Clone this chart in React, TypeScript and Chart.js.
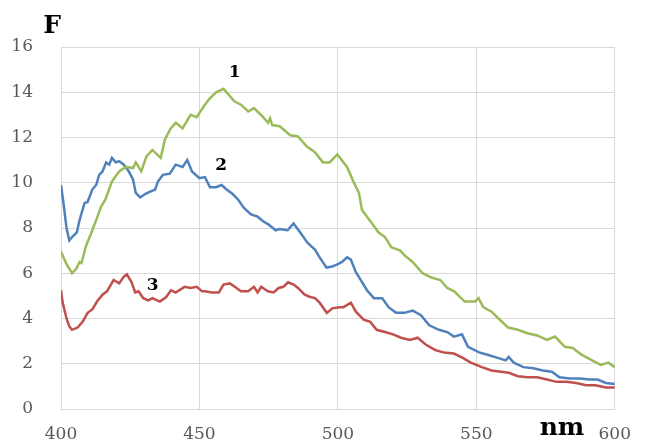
import React, { useEffect, useRef } from 'react';
import { Chart, registerables } from 'chart.js';
Chart.register(...registerables);

// Series 1 (green)
const wl1 = [400, 402, 404, 405.5, 406.7, 407.4, 409, 411, 412.7, 414.5, 416, 418.4, 421, 423.4, 426, 427, 429, 430.8, 433, 436, 437.5, 439.6, 441.5, 443.9, 446.8, 449, 451.7, 453.5, 456, 458.7, 460.5, 462.6, 465, 467.6, 469.7, 473, 474.8, 475.5, 476.3, 479, 482.8, 485.6, 488.8, 491.7, 494.6, 497, 499.8, 503.3, 505.8, 507.6, 508.7, 512, 514.7, 517, 519.3, 522.5, 524, 527, 530.6, 534, 537, 539.5, 542, 545.8, 549.6, 550.8, 552.5, 555.5, 558, 561.5, 565, 568.5, 572, 575.5, 578.4, 582, 584.8, 588, 591.8, 595, 597.7, 600];
const f1 = [6.95, 6.4, 6.0, 6.2, 6.5, 6.45, 7.2, 7.8, 8.35, 8.95, 9.25, 10.05, 10.5, 10.7, 10.65, 10.9, 10.5, 11.15, 11.45, 11.1, 11.9, 12.4, 12.65, 12.4, 13.0, 12.9, 13.4, 13.7, 14.0, 14.15, 13.9, 13.6, 13.45, 13.15, 13.3, 12.9, 12.65, 12.85, 12.55, 12.5, 12.1, 12.05, 11.6, 11.35, 10.9, 10.9, 11.25, 10.7, 10.0, 9.55, 8.8, 8.25, 7.8, 7.6, 7.15, 7.0, 6.8, 6.5, 6.0, 5.8, 5.7, 5.35, 5.2, 4.75, 4.75, 4.9, 4.5, 4.3, 4.0, 3.6, 3.5, 3.35, 3.25, 3.05, 3.2, 2.75, 2.7, 2.4, 2.15, 1.95, 2.05, 1.85];

// Series 2 (blue)
const wl2 = [400, 401, 402, 403, 404, 405.7, 406.7, 408.5, 409.6, 411.3, 412.7, 413.8, 415, 416.3, 417.4, 418.4, 419.8, 421, 422.7, 424.5, 426, 427, 428.6, 430.4, 432, 434, 435, 436.8, 439.3, 441.4, 443.9, 445.6, 447.3, 450, 452, 453.8, 456, 458, 459.8, 462, 464, 466, 468.6, 471, 473, 475, 477.5, 479, 481.8, 484, 486.4, 489, 491.7, 493.4, 495.9, 498, 500, 501.5, 503.3, 504.7, 506.5, 508.3, 510.5, 513, 516, 518.3, 521, 524, 527, 530, 533, 536.5, 539.5, 541.9, 544.8, 547, 551, 554, 558, 560.6, 561.7, 563.5, 567, 570.6, 574, 577.3, 580, 583.7, 587.4, 590.9, 593.8, 596.8, 600];
const f2 = [9.9, 9.0, 8.0, 7.45, 7.6, 7.8, 8.35, 9.1, 9.15, 9.7, 9.9, 10.35, 10.5, 10.9, 10.8, 11.1, 10.9, 10.95, 10.8, 10.5, 10.15, 9.55, 9.35, 9.5, 9.6, 9.7, 10.05, 10.35, 10.4, 10.8, 10.7, 11.0, 10.5, 10.2, 10.25, 9.8, 9.8, 9.9, 9.7, 9.5, 9.25, 8.9, 8.6, 8.5, 8.3, 8.15, 7.9, 7.95, 7.9, 8.2, 7.8, 7.35, 7.05, 6.7, 6.25, 6.3, 6.4, 6.5, 6.7, 6.6, 6.05, 5.7, 5.25, 4.9, 4.9, 4.5, 4.25, 4.25, 4.35, 4.15, 3.7, 3.5, 3.4, 3.2, 3.3, 2.75, 2.5, 2.4, 2.25, 2.15, 2.3, 2.05, 1.85, 1.8, 1.7, 1.65, 1.4, 1.35, 1.35, 1.3, 1.3, 1.15, 1.1];

// Series 3 (red)
const wl3 = [400, 400.6, 402, 403, 404, 406, 407.8, 409.6, 411.3, 413, 415, 416.6, 419, 421, 422.7, 423.8, 425.5, 426.8, 428, 429.7, 431.5, 433, 435.7, 438, 439.7, 441.4, 444.6, 446.8, 449, 451, 452, 454.5, 457, 458.7, 461, 463.4, 465, 467.6, 469.7, 471, 472.3, 474.7, 476.8, 478.6, 480.3, 482, 484, 485.6, 488, 490, 491.7, 493.4, 496, 498, 500.5, 502, 504.7, 506.5, 509.3, 511.7, 514, 517, 519.9, 522.8, 526, 528.8, 531.7, 535.2, 538.3, 541.9, 545.3, 548, 552, 555.5, 559, 561.7, 565, 568.5, 572, 575.5, 579, 582.6, 586, 589.6, 593, 596.8, 600];
const f3 = [5.25, 4.7, 4.0, 3.65, 3.5, 3.6, 3.85, 4.25, 4.4, 4.75, 5.05, 5.2, 5.7, 5.55, 5.85, 5.95, 5.6, 5.15, 5.2, 4.9, 4.8, 4.9, 4.75, 4.95, 5.25, 5.15, 5.4, 5.35, 5.4, 5.2, 5.2, 5.15, 5.15, 5.5, 5.55, 5.35, 5.2, 5.2, 5.4, 5.15, 5.4, 5.2, 5.15, 5.35, 5.4, 5.6, 5.5, 5.35, 5.05, 4.95, 4.9, 4.7, 4.25, 4.45, 4.5, 4.5, 4.7, 4.3, 3.95, 3.85, 3.5, 3.4, 3.3, 3.15, 3.05, 3.15, 2.85, 2.6, 2.5, 2.45, 2.25, 2.05, 1.85, 1.7, 1.65, 1.6, 1.45, 1.4, 1.4, 1.3, 1.2, 1.2, 1.15, 1.05, 1.05, 0.95, 0.95];

// Curve number labels (data coordinates)
const labelText = ['1', '2', '3'];
const labelX = [462.7, 457.8, 433.1];
const labelY = [14.69, 10.58, 5.27];

const xTitle = 'nm';
const yTitle = 'F';

const toPts = (xs: number[], ys: number[]) => xs.map((x, i) => ({ x, y: ys[i] }));

export default function App() {
  const ref = useRef<HTMLCanvasElement | null>(null);
  useEffect(() => {
    if (!ref.current) return;
    const textPlugin = {
      id: 'texts',
      beforeDraw(chart: any) {
        const ctx = chart.ctx;
        ctx.save();
        ctx.fillStyle = '#ffffff';
        ctx.fillRect(0, 0, chart.width, chart.height);
        ctx.restore();
      },
      afterDraw(chart: any) {
        const ctx = chart.ctx;
        const xs = chart.scales.x;
        const ys = chart.scales.y;
        ctx.save();
        ctx.fillStyle = '#000000';
        ctx.textAlign = 'center';
        ctx.textBaseline = 'alphabetic';
        ctx.font = 'bold 17px "DejaVu Serif"';
        labelText.forEach((t, i) => {
          ctx.fillText(t, xs.getPixelForValue(labelX[i]), ys.getPixelForValue(labelY[i]));
        });
        ctx.font = 'bold 25px "DejaVu Serif"';
        ctx.fillText(yTitle, chart.chartArea.left - 9, chart.chartArea.top - 14);
        ctx.fillText(xTitle, chart.chartArea.left + 501, chart.chartArea.bottom + 26);
        ctx.restore();
      },
    };
    const common = { borderWidth: 2.5, pointRadius: 0, tension: 0, fill: false };
    const chart = new Chart(ref.current, {
      type: 'line',
      data: {
        datasets: [
          { ...common, label: '1', data: toPts(wl1, f1), borderColor: '#9BBB59' },
          { ...common, label: '2', data: toPts(wl2, f2), borderColor: '#4F81BD' },
          { ...common, label: '3', data: toPts(wl3, f3), borderColor: '#C0504D' },
        ],
      },
      options: {
        animation: false,
        responsive: false,
        layout: { padding: { top: 47, right: 22, left: 0, bottom: 0 } },
        plugins: { legend: { display: false }, tooltip: { enabled: false } },
        scales: {
          x: {
            type: 'linear',
            min: 400,
            max: 600,
            ticks: { stepSize: 50, color: '#595959', font: { family: 'DejaVu Serif', size: 17 }, padding: 15, maxRotation: 0 },
            grid: { color: '#d9d9d9', drawTicks: false },
            border: { color: '#d9d9d9' },
            afterFit(s: any) { s.height = 32; },
          },
          y: {
            min: 0,
            max: 16,
            ticks: { stepSize: 2, color: '#595959', font: { family: 'DejaVu Serif', size: 17 }, padding: 28 },
            grid: { color: '#d9d9d9', drawTicks: false },
            border: { color: '#d9d9d9' },
            afterFit(s: any) { s.width = 61; s.paddingTop = 10; s.paddingBottom = 10; },
          },
        },
      },
      plugins: [textPlugin],
    });
    return () => chart.destroy();
  }, []);
  return (
    <div style={{ position: 'fixed', left: 0, top: 0, width: 646, height: 441 }}>
      <canvas ref={ref} width={646} height={441} style={{ display: 'block' }} />
    </div>
  );
}
